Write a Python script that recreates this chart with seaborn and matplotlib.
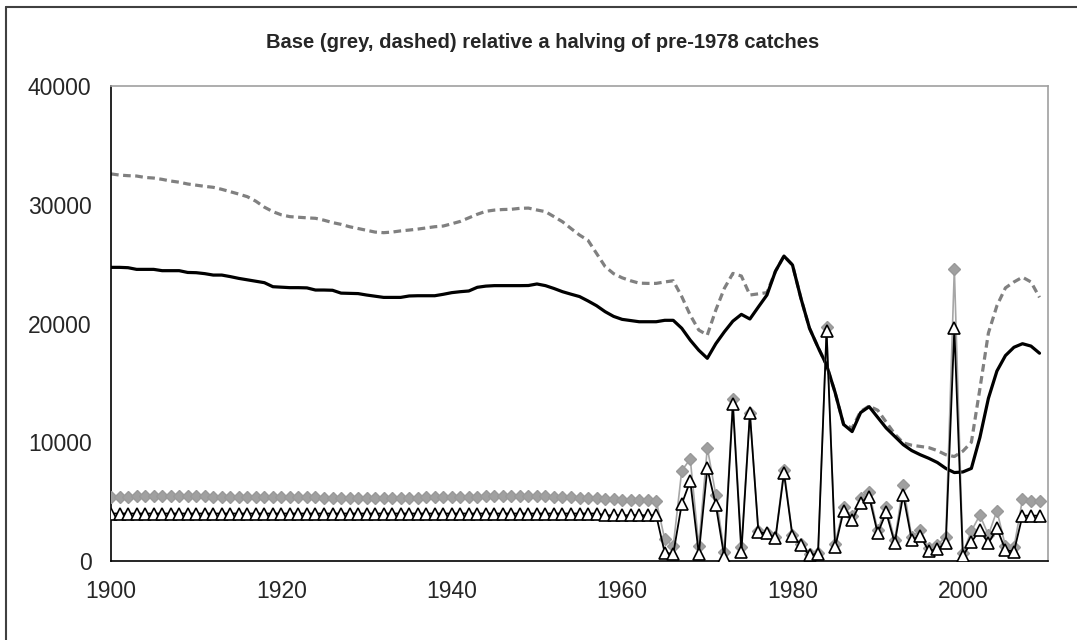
import numpy as np
import pandas as pd
import seaborn as sns
import matplotlib.pyplot as plt
from matplotlib.lines import Line2D

# Years shown
years = list(range(1900, 2010))

# Base run (grey, dashed)
base_line = [
    32600, 32500, 32450, 32420, 32300, 32250, 32140, 32000, 31900, 31750,
    31650, 31550, 31470, 31300, 31100, 30900, 30680, 30300, 29800, 29420,
    29150, 29000, 28950, 28900, 28860, 28700, 28500, 28350, 28150, 28000,
    27850, 27700, 27650, 27700, 27800, 27870, 27950, 28050, 28150, 28210,
    28400, 28600, 28900, 29200, 29450, 29550, 29600, 29620, 29700, 29720,
    29560, 29420, 29000, 28570, 28000, 27450, 27000, 25900, 24800, 24200,
    23850, 23600, 23400, 23380, 23380, 23500, 23600, 22270, 20700, 19450,
    19030, 21140, 22960, 24220, 24000, 22400, 22500, 22600, 24400, 25680,
    24930, 22100, 19600, 18000, 16500, 14200, 11500, 11200, 12600, 13050,
    12700, 11700, 10700, 9950, 9750, 9650, 9550, 9300, 8950, 8800,
    9250, 10000, 14500, 19200, 21500, 23000, 23500, 23900, 23500, 22200,
]

# Halved pre-1978 catches (black, solid)
half_line = [
    24730, 24730, 24700, 24560, 24560, 24560, 24450, 24450, 24450, 24300,
    24280, 24200, 24080, 24080, 23950, 23800, 23680, 23560, 23440, 23100,
    23060, 23020, 23020, 23000, 22820, 22820, 22800, 22560, 22540, 22520,
    22400, 22300, 22200, 22200, 22200, 22320, 22340, 22340, 22340, 22460,
    22600, 22680, 22740, 23050, 23150, 23190, 23190, 23190, 23190, 23200,
    23330, 23190, 22950, 22680, 22470, 22270, 21900, 21500, 21000, 20600,
    20350, 20250, 20150, 20150, 20150, 20270, 20270, 19600, 18600, 17750,
    17070, 18300, 19300, 20200, 20770, 20380, 21400, 22400, 24400, 25680,
    24930, 22100, 19600, 18000, 16500, 14200, 11500, 10900, 12500, 13000,
    12100, 11200, 10500, 9800, 9300, 8950, 8650, 8300, 7800, 7450,
    7500, 7800, 10400, 13700, 16000, 17300, 18000, 18300, 18100, 17500,
]

# Base markers (grey diamonds)
base_marks = [
    5420, 5430, 5430, 5440, 5440, 5440, 5450, 5450, 5450, 5450,
    5440, 5440, 5430, 5430, 5420, 5420, 5410, 5410, 5400, 5390,
    5380, 5370, 5360, 5350, 5350, 5340, 5340, 5340, 5330, 5330,
    5330, 5320, 5320, 5320, 5330, 5330, 5340, 5350, 5360, 5370,
    5380, 5400, 5410, 5430, 5450, 5460, 5470, 5470, 5470, 5470,
    5460, 5440, 5420, 5400, 5370, 5340, 5300, 5270, 5230, 5200,
    5170, 5150, 5120, 5100, 5080, 1850, 1260, 7610, 8590, 1290,
    9540, 5560, 730, 13610, 1210, 12500, 2500, 2400, 2000, 7700,
    2150, 1400, 550, 650, 19700, 1450, 4520, 3790, 5330, 5840,
    2610, 4550, 1770, 6400, 2000, 2610, 1070, 1350, 2050, 24590,
    650, 2530, 3870, 2190, 4240, 1260, 1150, 5190, 5080, 5080,
]

# Halved-catch markers (white triangles)
half_marks = [
    4000, 4000, 4000, 4000, 4000, 4000, 4000, 4000, 4000, 4000,
    4000, 4000, 4000, 4000, 4000, 4000, 4000, 4000, 4000, 4000,
    4000, 4000, 4000, 4000, 4000, 4000, 4000, 4000, 4000, 4000,
    4000, 4000, 4000, 4000, 4000, 4000, 4000, 4000, 4000, 4000,
    4000, 4000, 4000, 4000, 4000, 4000, 4000, 4000, 4000, 4000,
    4000, 4000, 4000, 4000, 4000, 4000, 4000, 4000, 3850, 3850,
    3850, 3850, 3850, 3850, 3850, 700, 590, 4800, 6740, 590,
    7800, 4720, 310, 13190, 730, 12440, 2420, 2330, 1910, 7390,
    2080, 1350, 480, 620, 19400, 1150, 4210, 3450, 4910, 5420,
    2330, 4100, 1520, 5560, 1770, 2110, 840, 1010, 1490, 19600,
    420, 1600, 2610, 1490, 2750, 930, 790, 3820, 3820, 3820,
]

df = pd.DataFrame({
    "year": years,
    "base_line": base_line,
    "half_line": half_line,
    "base_marks": base_marks,
    "half_marks": half_marks,
})

sns.set_style("white")
plt.rcParams["font.family"] = ["Liberation Sans", "DejaVu Sans"]

fig = plt.figure(figsize=(10.77, 6.4), dpi=100)
ax = fig.add_axes([0.1031, 0.1234, 0.8700, 0.7422])

sns.lineplot(data=df, x="year", y="base_line", ax=ax, color="#808080",
             linewidth=2.3, linestyle=(0, (2.4, 1.4)), zorder=2)
sns.lineplot(data=df, x="year", y="half_line", ax=ax, color="black",
             linewidth=2.3, zorder=3)
sns.lineplot(data=df, x="year", y="base_marks", ax=ax, color="#a6a6a6",
             linewidth=1.2, marker="D", markersize=6.5,
             markerfacecolor="#a0a0a0", markeredgecolor="#999999",
             markeredgewidth=1.0, zorder=4)
sns.lineplot(data=df, x="year", y="half_marks", ax=ax, color="black",
             linewidth=1.3, marker="^", markersize=8.5,
             markerfacecolor="white", markeredgecolor="black",
             markeredgewidth=1.2, zorder=5)

ax.set_xlim(1900, 2010)
ax.set_ylim(0, 40000)
ax.set_xticks([1900, 1920, 1940, 1960, 1980, 2000])
ax.set_yticks([0, 10000, 20000, 30000, 40000])
ax.set_xlabel("")
ax.set_ylabel("")
ax.tick_params(axis="both", direction="out", length=5, width=1,
               color="black", labelsize=16.5, pad=9)

for side in ["left", "bottom"]:
    ax.spines[side].set_color("black")
    ax.spines[side].set_linewidth(1.2)
for side in ["top", "right"]:
    ax.spines[side].set_visible(True)
    ax.spines[side].set_color("#a0a0a0")
    ax.spines[side].set_linewidth(1.2)

fig.text(0.504, 0.933, "Base (grey, dashed) relative a halving of pre-1978 catches",
         ha="center", va="center", fontsize=14.5, fontweight="bold")

# Outer chart frame (only left and top edges are inside the picture)
fig.add_artist(Line2D([0.0056, 0.0056], [0.0, 0.989], color="#404040",
                      linewidth=1.5, transform=fig.transFigure))
fig.add_artist(Line2D([0.0056, 1.0], [0.989, 0.989], color="#404040",
                      linewidth=1.5, transform=fig.transFigure))

fig.savefig("out.png", dpi=100)
